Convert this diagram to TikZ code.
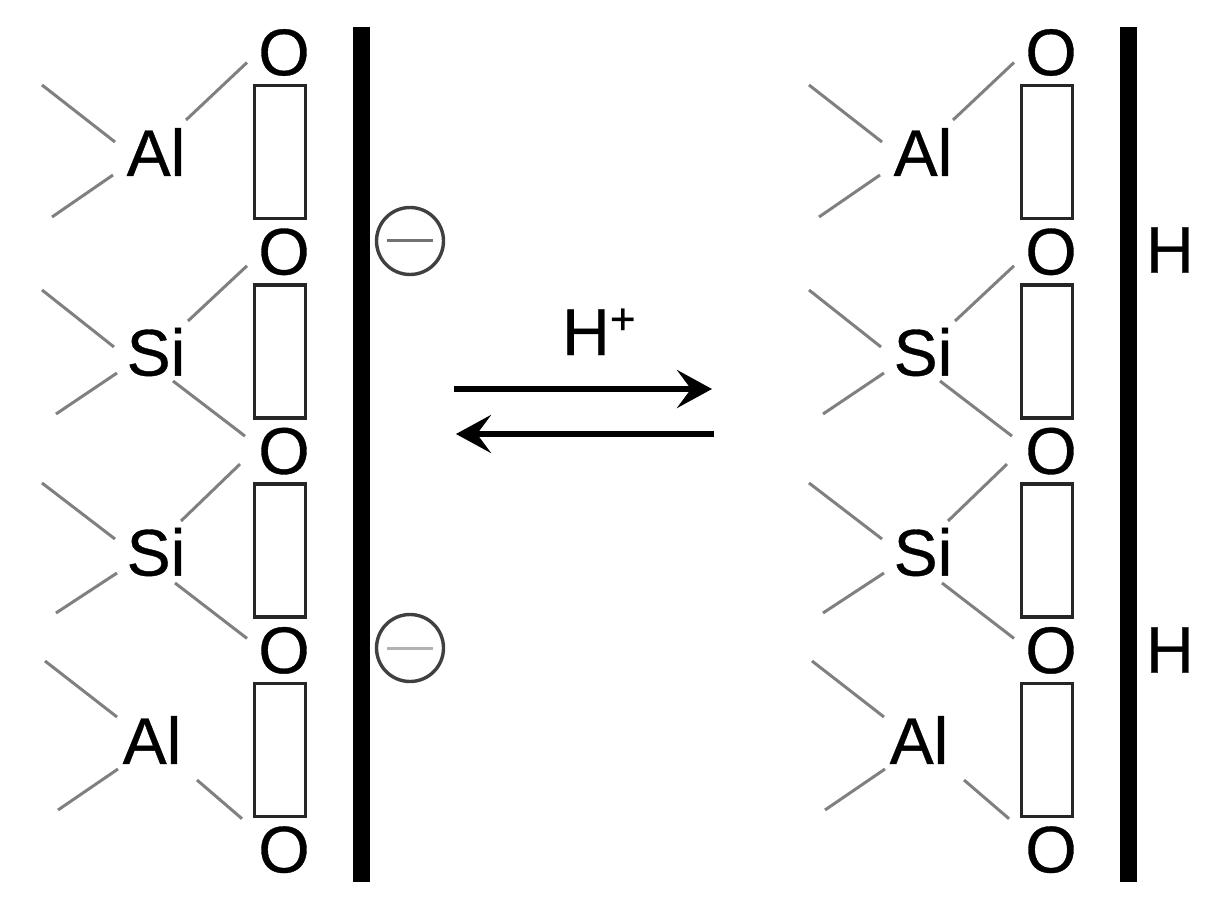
\documentclass[tikz,border=0pt]{standalone}
\usepackage{fontspec}
\setmainfont{Liberation Sans}
\newfontfamily\atomfont{Liberation Sans}[FakeBold=0.5]
\usetikzlibrary{positioning,arrows.meta}

\begin{document}
\begin{tikzpicture}[x=1pt, y=-1pt, node distance=199.3pt, >={Stealth[length=35pt,width=38pt,inset=14pt]},
    atom/.style={font=\atomfont\fontsize{66}{70}\selectfont, inner sep=0pt, text=black},
    slot/.style={rectangle, draw=black!85, line width=3.6pt, minimum width=51pt, minimum height=133pt, inner sep=0pt},
    wall/.style={rectangle, fill=black, minimum width=17pt, minimum height=855pt, inner sep=0pt},
    charge/.style={circle, draw=black!75, line width=3.4pt, minimum size=67pt, inner sep=0pt},
    bond/.style={draw=black!50, line width=3pt},
    edge/.style={->, line width=5.6pt, draw=black}]

\useasboundingbox (0,0) rectangle (1217,909);

% both columns are the same, only moved sideways
\foreach \col/\dx in {l/0, r/767} {
\begin{scope}[xshift=\dx pt]
\node [atom] (o1\col) at (284,52.5) {O};
\node [atom, below of=o1\col] (o2\col) {O};
\node [atom, below of=o2\col] (o3\col) {O};
\node [atom, below of=o3\col] (o4\col) {O};
\node [atom, below of=o4\col] (o5\col) {O};

\node [slot] (slot1\col) at (280,152) {};
\node [slot, below of=slot1\col] (slot2\col) {};
\node [slot, below of=slot2\col] (slot3\col) {};
\node [slot, below of=slot3\col] (slot4\col) {};

\node [wall] (wall\col) at (361.5,454.5) {};

\node [atom] (al1\col) at (156,152) {Al};
\node [atom] (si1\col) at (156,352) {Si};
\node [atom] (si2\col) at (156,552) {Si};
\node [atom] (al2\col) at (152,740) {Al};

\draw [bond] ([shift={(-114,-67)}]al1\col.center) -- ([shift={(-41,-10)}]al1\col.center);
\draw [bond] ([shift={(-104,65)}]al1\col.center) -- ([shift={(-43,23)}]al1\col.center);
\draw [bond] ([shift={(30,-32)}]al1\col.center) -- ([shift={(-37,10)}]o1\col.center);

\draw [bond] ([shift={(-114,-62)}]si1\col.center) -- ([shift={(-42,-5)}]si1\col.center);
\draw [bond] ([shift={(-100,62)}]si1\col.center) -- ([shift={(-39,21)}]si1\col.center);
\draw [bond] ([shift={(32,-31)}]si1\col.center) -- ([shift={(-37,14)}]o2\col.center);
\draw [bond] ([shift={(17,29)}]si1\col.center) -- ([shift={(-39,-15)}]o3\col.center);

\draw [bond] ([shift={(-114,-69)}]si2\col.center) -- ([shift={(-41,-13)}]si2\col.center);
\draw [bond] ([shift={(-100,61)}]si2\col.center) -- ([shift={(-39,21)}]si2\col.center);
\draw [bond] ([shift={(25,-31)}]si2\col.center) -- ([shift={(-44,13)}]o3\col.center);
\draw [bond] ([shift={(19,31)}]si2\col.center) -- ([shift={(-37,-12)}]o4\col.center);

\draw [bond] ([shift={(-107,-79)}]al2\col.center) -- ([shift={(-35,-23)}]al2\col.center);
\draw [bond] ([shift={(-94,70)}]al2\col.center) -- ([shift={(-34,29)}]al2\col.center);
\draw [bond] ([shift={(45,40)}]al2\col.center) -- ([shift={(-42,-31)}]o5\col.center);
\end{scope}
}

\node [charge] (neg1) at (410,241) {};
\node [charge] (neg2) at (410,648) {};
\draw [draw=black!55, line width=3pt] ([xshift=-23pt]neg1.center) -- ([xshift=23pt]neg1.center);
\draw [draw=black!30, line width=3pt] ([xshift=-23pt]neg2.center) -- ([xshift=23pt]neg2.center);

\node [atom] (h1) at (1170,250) {H};
\node [atom, below of=h1, node distance=400pt] (h2) {H};

\node [atom, anchor=base west] (hplus) at (562,355) {H\raisebox{21pt}{\atomfont\fontsize{44}{46}\selectfont +}};

\coordinate (fwdstart) at (454,389);
\coordinate (fwdend) at (712,389);
\coordinate (backstart) at (714,434);
\coordinate (backend) at (456,434);
\draw [edge] (fwdstart) -- (fwdend);
\draw [edge] (backstart) -- (backend);

\end{tikzpicture}
\end{document}
